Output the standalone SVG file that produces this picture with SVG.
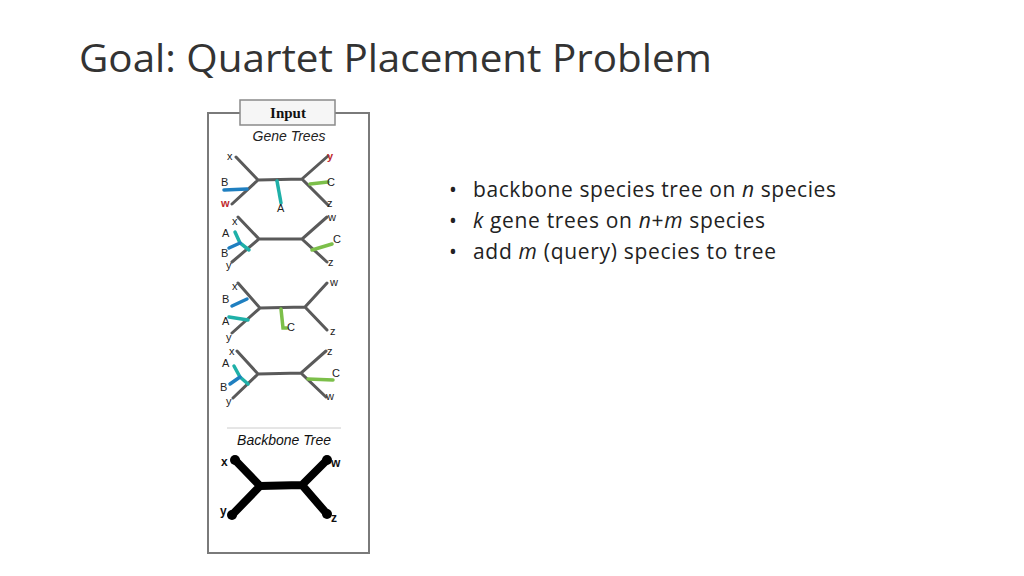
<svg xmlns="http://www.w3.org/2000/svg" width="1024" height="576" viewBox="0 0 1024 576">
<style>
.g{stroke:#5a5a5a;stroke-width:3;fill:none;stroke-linecap:round}
.b{stroke:#1f7fc0;stroke-width:3.5;fill:none;stroke-linecap:round}
.t{stroke:#1fb0a8;stroke-width:3.5;fill:none;stroke-linecap:round}
.c{stroke:#7cbf4a;stroke-width:3.5;fill:none;stroke-linecap:round}
.k{stroke:#000;stroke-width:8;fill:none;stroke-linecap:round;stroke-linejoin:round}
.l{font-family:"Liberation Sans",Arial,sans-serif;font-size:11px;fill:#222}
.r{fill:#c0282d;font-weight:bold}
.bl{font-family:"Open Sans","Noto Sans",sans-serif;font-size:21px;fill:#222}
</style>
<rect width="1024" height="576" fill="#fff"/>
<text x="79" y="72" font-family="'Open Sans','Noto Sans',sans-serif" font-size="38" fill="#333" textLength="633" lengthAdjust="spacingAndGlyphs">Goal: Quartet Placement Problem</text>
<g id="figure">
<rect x="208" y="113" width="161" height="440" fill="#fff" stroke="#7a7a7a" stroke-width="2"/>
<rect x="240" y="100" width="95" height="25" fill="#f6f6f6" stroke="#8a8a8a" stroke-width="1.5"/>
<text x="288" y="118" text-anchor="middle" font-family="'Liberation Serif',serif" font-weight="bold" font-size="15" fill="#111">Input</text>
<text x="289" y="141" text-anchor="middle" font-family="'Liberation Sans',sans-serif" font-style="italic" font-size="14" fill="#222">Gene Trees</text>
<path class="g" d="M236 157L258 180L232 204M258 180L302 179M328 156L302 179L328 205"/>
<path class="b" d="M224 190L247 189"/><path class="t" d="M277 181L281 203"/><path class="c" d="M310 184L328 182"/>
<text class="l" x="227" y="160">x</text><text class="l r" x="327" y="160">y</text>
<text class="l" x="221" y="186">B</text><text class="l r" x="221" y="207">w</text>
<text class="l" x="277" y="212">A</text><text class="l" x="327" y="186">C</text><text class="l" x="327" y="207">z</text>
<path class="g" d="M238 217L259 239L232 262M259 239L302 239M327 217L302 239L327 262"/>
<path class="t" d="M249 250L240 243L235 232"/><path class="b" d="M240 243L229 248"/><path class="c" d="M312 250L332 244"/>
<text class="l" x="232" y="225">x</text><text class="l" x="222" y="237">A</text><text class="l" x="221" y="257">B</text><text class="l" x="226" y="269">y</text>
<text class="l" x="328" y="221">w</text><text class="l" x="333" y="243">C</text><text class="l" x="328" y="266">z</text>
<path class="g" d="M238 283L260 308L232 333M260 308L305 307M327 283L305 307L327 330"/>
<path class="b" d="M232 306L247 299"/><path class="t" d="M229 317L248 320"/><path class="c" d="M281 309L283 328L287 328"/>
<text class="l" x="232" y="290">x</text><text class="l" x="222" y="303">B</text><text class="l" x="222" y="325">A</text><text class="l" x="226" y="341">y</text>
<text class="l" x="330" y="286">w</text><text class="l" x="287" y="331">C</text><text class="l" x="330" y="335">z</text>
<path class="g" d="M237 351L258 374L233 398M258 374L301 373M326 351L301 373L326 397"/>
<path class="t" d="M248 384L240 377L234 366"/><path class="b" d="M240 377L230 384"/><path class="c" d="M308 379L333 380"/>
<text class="l" x="229" y="355">x</text><text class="l" x="222" y="367">A</text><text class="l" x="220" y="391">B</text><text class="l" x="226" y="405">y</text>
<text class="l" x="327" y="355">z</text><text class="l" x="332" y="377">C</text><text class="l" x="326" y="400">w</text>
<line x1="227" y1="428" x2="341" y2="428" stroke="#ccc" stroke-width="1"/>
<text x="284" y="445" text-anchor="middle" font-family="'Liberation Sans',sans-serif" font-style="italic" font-size="14" fill="#111">Backbone Tree</text>
<path class="k" d="M235 460L260 486L232 515M260 486L302 485M327 460L302 485L327 514"/>
<g fill="#000"><circle cx="235" cy="460" r="5"/><circle cx="232" cy="515" r="5"/><circle cx="327" cy="460" r="5"/><circle cx="327" cy="514" r="5"/></g>
<g font-family="'Liberation Sans',sans-serif" font-weight="bold" font-size="12" fill="#111">
<text x="221" y="466">x</text><text x="331" y="467">w</text><text x="220" y="515">y</text><text x="331" y="522">z</text></g>
</g>
<g class="bl">
<text x="449" y="197">•</text><text x="473" y="197" textLength="363">backbone species tree on <tspan font-style="italic">n</tspan> species</text>
<text x="449" y="228">•</text><text x="473" y="228" textLength="292"><tspan font-style="italic">k</tspan> gene trees on <tspan font-style="italic">n</tspan>+<tspan font-style="italic">m</tspan> species</text>
<text x="449" y="259">•</text><text x="473" y="259" textLength="303">add <tspan font-style="italic">m</tspan> (query) species to tree</text>
</g>
</svg>
